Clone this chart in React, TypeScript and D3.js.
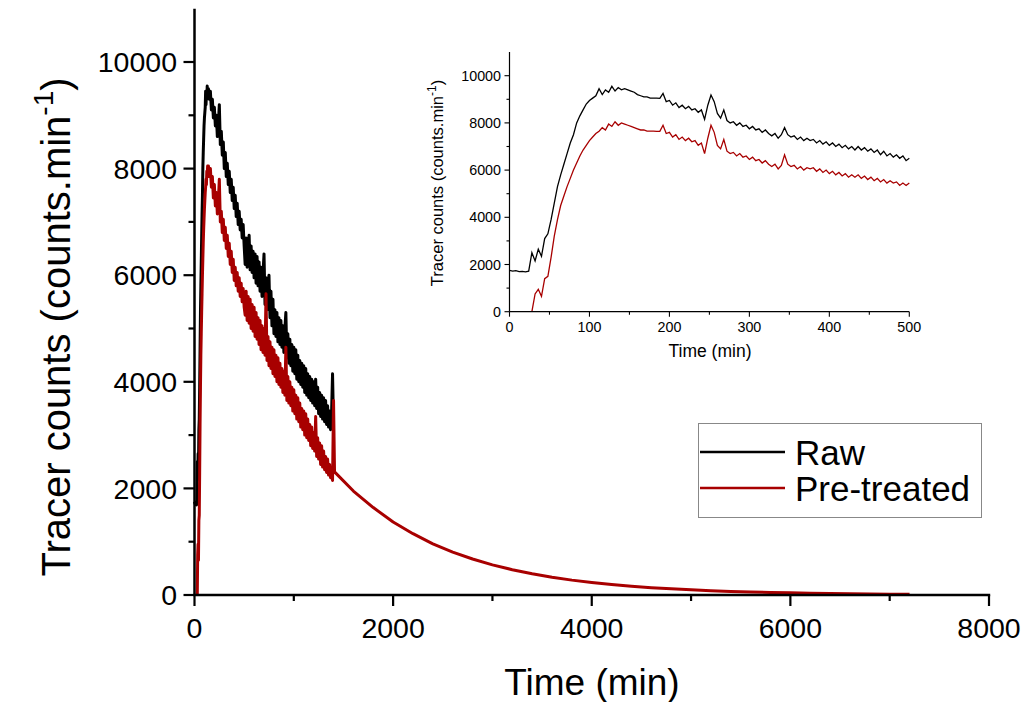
import React from "react";
import * as d3 from "d3";

// ---------- DATA ----------
// Inset (0-500 min, every 4 min)
const insetTimes: number[] = d3.range(0, 501, 4);
const rawInset: number[] = [
  1750, 1720, 1740, 1700, 1710, 1690, 1720, 2500, 2150, 2650, 2350, 3100, 3300, 3900, 4600, 5300,
  5800, 6250, 6700, 7150, 7500, 8000, 8300, 8550, 8800, 8950, 9050, 9150, 9450, 9200, 9400, 9300,
  9550, 9350, 9500, 9400, 9450, 9400, 9350, 9300, 9200, 9150, 9100, 9100, 9050, 9050, 9050, 9040,
  9250, 8900, 8950, 8750, 8850, 8650, 8750, 8600, 8700, 8550, 8600, 8450, 8550, 8150, 8750, 9180,
  8900, 8400, 8200, 8550, 8100, 8000, 8050, 7900, 8000, 7850, 7900, 7750, 7850, 7700, 7750, 7600,
  7700, 7550, 7450, 7550, 7350, 7500, 7800, 7500, 7400, 7450, 7300, 7400, 7250, 7350, 7250, 7300,
  7150, 7250, 7100, 7200, 7050, 7150, 7000, 7100, 6950, 7050, 6900, 7000, 6850, 7000, 6850, 6950,
  6800, 6900, 6750, 6850, 6650, 6800, 6600, 6700, 6550, 6650, 6500, 6600, 6400, 6500,
];
const preInset: (number | null)[] = [
  null, null, null, null, null, null, null, 0, 750, 950, 650, 1400, 1500, 2300, 3200, 3900,
  4500, 4900, 5300, 5650, 6000, 6300, 6600, 6850, 7050, 7250, 7400, 7550, 7650, 7800, 7700, 7950,
  7850, 8050, 7900, 8000, 7950, 7900, 7850, 7800, 7750, 7700, 7700, 7650, 7650, 7650, 7640, 7640,
  7900, 7550, 7600, 7400, 7500, 7300, 7400, 7250, 7350, 7200, 7250, 7050, 7150, 6700, 7350, 7900,
  7600, 7050, 6900, 7300, 6800, 6700, 6750, 6600, 6700, 6550, 6600, 6450, 6550, 6400, 6450, 6300,
  6400, 6250, 6150, 6250, 6050, 6200, 6650, 6250, 6150, 6200, 6050, 6150, 6000, 6100, 6050, 6100,
  5950, 6050, 5900, 6000, 5850, 5950, 5800, 5900, 5750, 5850, 5700, 5800, 5700, 5800, 5650, 5750,
  5600, 5700, 5550, 5650, 5500, 5600, 5450, 5550, 5450, 5500, 5350, 5450, 5350, 5450,
];

// Main plot, decay section as drawn in the big panel (140-500 min, every 10 min)
const midTimes: number[] = d3.range(140, 501, 10);
const rawMid: number[] = [
  9500, 9300, 9450, 9100, 9300, 8950, 9150, 8800, 9000, 8600, 8850, 9200, 8450, 8700, 8250, 8500,
  8000, 8300, 7850, 8100, 7700, 7950, 7550, 7800, 7400, 7650, 7250, 7500, 7100, 7350, 6950, 7200,
  6850, 7050, 6700, 6950, 6550,
];
const preMid: number[] = [
  8050, 7850, 8000, 7650, 7850, 7450, 7700, 7300, 7550, 7150, 7400, 7800, 7000, 7200, 6800, 7050,
  6650, 6900, 6500, 6750, 6350, 6600, 6200, 6450, 6050, 6300, 5900, 6150, 5800, 6050, 5700, 5950,
  5600, 5850, 5500, 5750, 5400,
];

// Main plot continuation (510-1400 min, every 10 min)
const extTimes: number[] = d3.range(510, 1401, 10);
const rawExt: number[] = [
  6200, 6700, 6150, 6600, 6750, 6100, 6550, 6050, 6450, 5950,
  6400, 5850, 6350, 5800, 6250, 5700, 6150, 5600, 6050, 6400,
  5450, 5950, 5350, 5850, 6000, 5200, 5700, 5050, 5550, 4900,
  5350, 4850, 5300, 4750, 5200, 4700, 5150, 4650, 5050, 4550,
  5000, 5300, 4450, 4900, 4350, 4800, 4300, 4700, 4200, 4650,
  4150, 4600, 4050, 4500, 4000, 4400, 3950, 4350, 3900, 4300,
  3800, 4250, 3750, 4150, 3700, 4100, 3650, 4050, 3600, 4000,
  3550, 4050, 3500, 3900, 3400, 3800, 3350, 3750, 3300, 3700,
  3250, 3650, 3200, 3550, 3150, 3450, 3100, 3400, 4150, 3200,
];
const preExt: number[] = [
  5250, 5700, 5150, 5600, 5100, 5550, 5000, 5450, 4950, 5400,
  4850, 5300, 4800, 5200, 4700, 5150, 4600, 5050, 4550, 5000,
  4500, 5650, 4400, 4850, 4300, 4750, 4250, 4650, 4150, 4600,
  4100, 4500, 4000, 4450, 3950, 4350, 3900, 4250, 3800, 4200,
  3750, 4650, 3650, 4100, 3600, 4000, 3550, 3900, 3450, 3850,
  3400, 3750, 3300, 3700, 3250, 3600, 3150, 3500, 3100, 3450,
  3000, 3400, 2950, 3300, 2900, 3200, 2800, 3150, 2750, 3050,
  2700, 3350, 2600, 2950, 2550, 2850, 2450, 2800, 2400, 2700,
  2350, 2600, 2300, 2550, 2250, 2450, 2200, 2350, 2150, 3650,
];

// Smooth tail of the pre-treated curve
const tailTimes: number[] = [
  1410, 1600, 1800, 2000, 2200, 2400, 2600, 2800, 3000, 3200, 3400, 3600, 3800, 4000, 4200,
  4400, 4600, 4800, 5000, 5200, 5400, 5600, 5800, 6000, 6200, 6400, 6600, 6800, 7000, 7200,
];
const preTail: number[] = [
  2310, 1950, 1640, 1370, 1150, 960, 805, 675, 565, 475, 398, 333, 279, 234, 196,
  164, 138, 115, 97, 81, 68, 57, 48, 40, 33, 28, 23, 20, 16, 14,
];

const mainXTicks = [0, 2000, 4000, 6000, 8000];
const mainYTicks = [0, 2000, 4000, 6000, 8000, 10000];
const insetXTicks = [0, 100, 200, 300, 400, 500];
const insetYTicks = [0, 2000, 4000, 6000, 8000, 10000];

const seriesNames = ["Raw", "Pre-treated"];
const seriesColors = ["#000000", "#a80000"];

type Pt = [number, number];

const FONT = "'Liberation Sans', Arial, Helvetica, sans-serif";

export default function App() {
  const mx = d3.scaleLinear().domain([0, 8000]).range([194.5, 989]);
  const my = d3.scaleLinear().domain([0, 10000]).range([595, 62]);
  const ix = d3.scaleLinear().domain([0, 500]).range([509.5, 909.3]);
  const iy = d3.scaleLinear().domain([0, 10000]).range([311.7, 75.7]);

  const rawMain: Pt[] = [
    ...insetTimes.filter((t) => t < 140).map((t, i) => [t, rawInset[i]] as Pt),
    ...midTimes.map((t, i) => [t, rawMid[i]] as Pt),
    ...extTimes.map((t, i) => [t, rawExt[i]] as Pt),
  ];
  const preMain: Pt[] = [
    ...insetTimes
      .map((t, i) => [t, preInset[i]] as [number, number | null])
      .filter((d) => d[0] < 140 && d[1] !== null)
      .map((d) => [d[0], d[1] as number] as Pt),
    ...midTimes.map((t, i) => [t, preMid[i]] as Pt),
    ...extTimes.map((t, i) => [t, preExt[i]] as Pt),
    ...tailTimes.map((t, i) => [t, preTail[i]] as Pt),
  ];

  const mainLine = d3
    .line<Pt>()
    .x((d) => mx(d[0]))
    .y((d) => my(d[1]));

  const insetLine = d3
    .line<[number, number | null]>()
    .defined((d) => d[1] !== null)
    .x((d) => ix(d[0]))
    .y((d) => iy(d[1] as number));

  const rawInsetPts = insetTimes.map((t, i) => [t, rawInset[i]] as [number, number | null]);
  const preInsetPts = insetTimes.map((t, i) => [t, preInset[i]] as [number, number | null]);

  const mainXMinor = d3.range(1000, 8000, 2000);
  const mainYMinor = d3.range(1000, 11000, 2000);
  const insetXMinor = d3.range(50, 500, 100);
  const insetYMinor = d3.range(1000, 11000, 2000);

  return (
    <svg
      width={1023}
      height={702}
      style={{ position: "absolute", left: 0, top: 0, background: "#fff" }}
      fontFamily={FONT}
    >
      <rect x={0} y={0} width={1023} height={702} fill="#fff" />

      {/* ---------- MAIN PLOT ---------- */}
      <path d={mainLine(rawMain) || ""} fill="none" stroke={seriesColors[0]} strokeWidth={3} strokeLinejoin="round" />
      <path d={mainLine(preMain) || ""} fill="none" stroke={seriesColors[1]} strokeWidth={3} strokeLinejoin="round" />

      <line x1={mx(0)} x2={mx(0)} y1={my(0)} y2={my(11000)} stroke="#000" strokeWidth={2.5} />
      <line x1={mx(0) - 1.2} x2={mx(8000) + 1.2} y1={my(0)} y2={my(0)} stroke="#000" strokeWidth={2.5} />

      {mainYTicks.map((v) => (
        <g key={"my" + v}>
          <line x1={mx(0) - 11} x2={mx(0)} y1={my(v)} y2={my(v)} stroke="#000" strokeWidth={2.2} />
          <text x={177} y={my(v)} dy="0.36em" textAnchor="end" fontSize={28.5}>
            {v}
          </text>
        </g>
      ))}
      {mainYMinor.map((v) => (
        <line key={"mym" + v} x1={mx(0) - 6} x2={mx(0)} y1={my(v)} y2={my(v)} stroke="#000" strokeWidth={2.2} />
      ))}
      {mainXTicks.map((v) => (
        <g key={"mx" + v}>
          <line x1={mx(v)} x2={mx(v)} y1={my(0)} y2={my(0) + 11} stroke="#000" strokeWidth={2.2} />
          <text x={mx(v)} y={638} textAnchor="middle" fontSize={28.5}>
            {v}
          </text>
        </g>
      ))}
      {mainXMinor.map((v) => (
        <line key={"mxm" + v} x1={mx(v)} x2={mx(v)} y1={my(0)} y2={my(0) + 6} stroke="#000" strokeWidth={2.2} />
      ))}

      <text x={592} y={695} textAnchor="middle" fontSize={37}>
        Time (min)
      </text>
      <text transform="translate(70,327) rotate(-90)" textAnchor="middle" fontSize={40}>
        Tracer counts (counts.min
        <tspan fontSize={28} dy={-17}>-1</tspan>
        <tspan dy={17}>)</tspan>
      </text>

      {/* legend */}
      <rect x={698.5} y={423.5} width={283} height={94} fill="#fff" stroke="#888" strokeWidth={1} />
      {seriesNames.map((n, i) => (
        <g key={n}>
          <line x1={700} x2={785} y1={452 + i * 36} y2={452 + i * 36} stroke={seriesColors[i]} strokeWidth={2.6} />
          <text x={795} y={465 + i * 35.5} fontSize={35}>
            {n}
          </text>
        </g>
      ))}

      {/* ---------- INSET ---------- */}
      <path d={insetLine(rawInsetPts) || ""} fill="none" stroke={seriesColors[0]} strokeWidth={1.3} />
      <path d={insetLine(preInsetPts) || ""} fill="none" stroke={seriesColors[1]} strokeWidth={1.3} />

      <line x1={ix(0)} x2={ix(0)} y1={iy(0)} y2={iy(11000)} stroke="#000" strokeWidth={1.2} />
      <line x1={ix(0)} x2={ix(500)} y1={iy(0)} y2={iy(0)} stroke="#000" strokeWidth={1.2} />
      {insetYTicks.map((v) => (
        <g key={"iy" + v}>
          <line x1={ix(0) - 5} x2={ix(0)} y1={iy(v)} y2={iy(v)} stroke="#000" strokeWidth={1.1} />
          <text x={501} y={iy(v)} dy="0.36em" textAnchor="end" fontSize={14.3}>
            {v}
          </text>
        </g>
      ))}
      {insetYMinor.map((v) => (
        <line key={"iym" + v} x1={ix(0) - 3} x2={ix(0)} y1={iy(v)} y2={iy(v)} stroke="#000" strokeWidth={1.1} />
      ))}
      {insetXTicks.map((v) => (
        <g key={"ix" + v}>
          <line x1={ix(v)} x2={ix(v)} y1={iy(0)} y2={iy(0) + 5} stroke="#000" strokeWidth={1.1} />
          <text x={ix(v)} y={332} textAnchor="middle" fontSize={14.3}>
            {v}
          </text>
        </g>
      ))}
      {insetXMinor.map((v) => (
        <line key={"ixm" + v} x1={ix(v)} x2={ix(v)} y1={iy(0)} y2={iy(0) + 3} stroke="#000" strokeWidth={1.1} />
      ))}
      <text x={710} y={357} textAnchor="middle" fontSize={17.5}>
        Time (min)
      </text>
      <text transform="translate(443,183) rotate(-90)" textAnchor="middle" fontSize={16.5}>
        Tracer counts (counts.min
        <tspan fontSize={12} dy={-7}>-1</tspan>
        <tspan dy={7}>)</tspan>
      </text>
    </svg>
  );
}
